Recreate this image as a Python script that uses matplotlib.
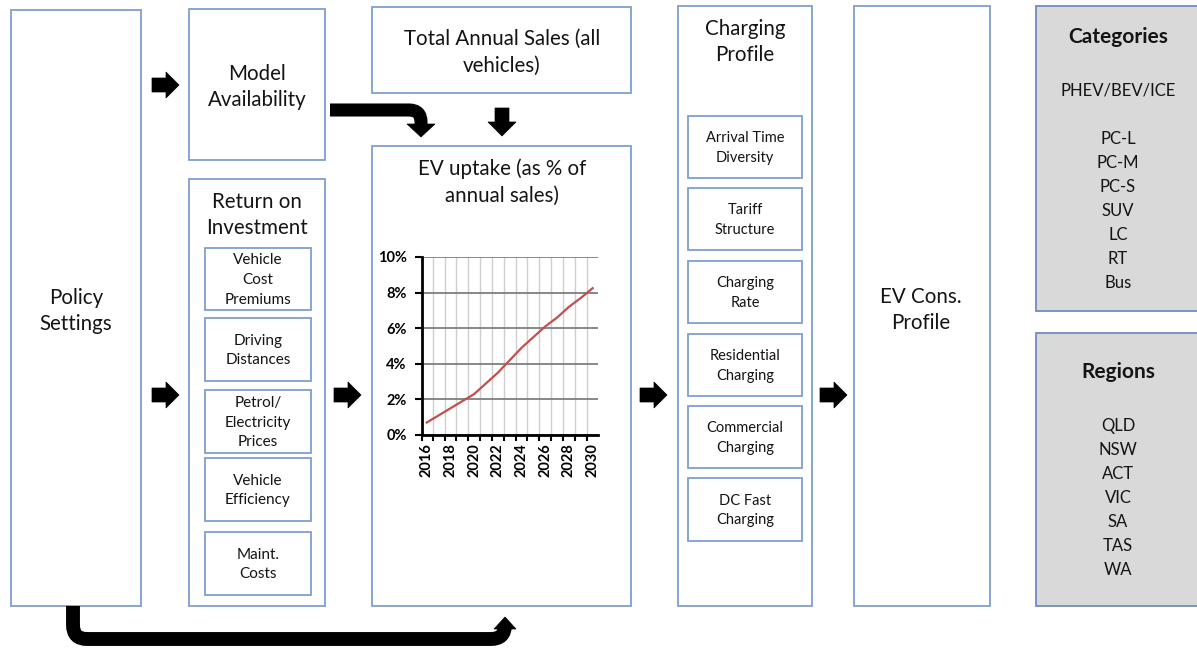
import numpy as np
import matplotlib
matplotlib.use('Agg')
import matplotlib.pyplot as plt
from matplotlib.patches import Rectangle, Polygon, PathPatch
from matplotlib.path import Path

plt.rcParams['font.family'] = ['Lato', 'DejaVu Sans']

# inset chart data (EV uptake, % of annual sales)
years = list(range(2016, 2031))
uptake = [0.7, 1.1, 1.5, 1.9, 2.3, 2.9, 3.5, 4.2, 4.9, 5.5, 6.1, 6.6, 7.2, 7.7, 8.25]

roi_items = ['Vehicle\nCost\nPremiums', 'Driving\nDistances', 'Petrol/\nElectricity\nPrices',
             'Vehicle\nEfficiency', 'Maint.\nCosts']
charging_items = ['Arrival Time\nDiversity', 'Tariff\nStructure', 'Charging\nRate',
                  'Residential\nCharging', 'Commercial\nCharging', 'DC Fast\nCharging']
categories = ['PC-L', 'PC-M', 'PC-S', 'SUV', 'LC', 'RT', 'Bus']
regions = ['QLD', 'NSW', 'ACT', 'VIC', 'SA', 'TAS', 'WA']

EDGE = '#7f9fd0'
TXT = '#141414'

fig = plt.figure(figsize=(11.97, 6.5), dpi=100)
ax = fig.add_axes([0, 0, 1, 1])
ax.set_xlim(0, 1197)
ax.set_ylim(650, 0)
ax.axis('off')


def box(x0, y0, x1, y1, fc='white', ec=EDGE, lw=1.3):
    ax.add_patch(Rectangle((x0, y0), x1 - x0, y1 - y0, fc=fc, ec=ec, lw=lw, zorder=1))


def label(x, y, s, size=14.8, weight='normal', ls=1.42):
    ax.text(x, y, s, ha='center', va='center', fontsize=size, fontweight=weight,
            color=TXT, linespacing=ls, zorder=5)


def right_arrow(x0, yc):
    pts = [(x0, yc - 7), (x0 + 14, yc - 7), (x0 + 14, yc - 13), (x0 + 27, yc),
           (x0 + 14, yc + 13), (x0 + 14, yc + 7), (x0, yc + 7)]
    ax.add_patch(Polygon(pts, closed=True, fc='black', ec='black', lw=0.5, zorder=6))


def down_arrow(xc, y0):
    pts = [(xc - 7, y0), (xc + 7, y0), (xc + 7, y0 + 14), (xc + 14, y0 + 14),
           (xc, y0 + 28), (xc - 14, y0 + 14), (xc - 7, y0 + 14)]
    ax.add_patch(Polygon(pts, closed=True, fc='black', ec='black', lw=0.5, zorder=6))


def bent(points, r, lw):
    # polyline with rounded corners
    verts = [points[0]]
    codes = [Path.MOVETO]
    for i in range(1, len(points) - 1):
        p0, c, p1 = map(np.array, (points[i - 1], points[i], points[i + 1]))
        d0 = (c - p0) / np.linalg.norm(c - p0)
        d1 = (p1 - c) / np.linalg.norm(p1 - c)
        verts += [tuple(c - r * d0), tuple(c), tuple(c + r * d1)]
        codes += [Path.LINETO, Path.CURVE3, Path.CURVE3]
    verts.append(points[-1])
    codes.append(Path.LINETO)
    ax.add_patch(PathPatch(Path(verts, codes), fill=False, ec='black', lw=lw,
                           capstyle='butt', joinstyle='miter', zorder=6))


# main boxes
box(11, 10, 141, 606)
label(76, 311, 'Policy\nSettings')

box(189, 9, 325, 160)
label(257, 87, 'Model\nAvailability')

box(189, 179, 325, 606)
label(257, 215, 'Return on\nInvestment')
roi_y = [(248, 310), (318, 381), (390, 453), (458, 521), (532, 595)]
for (y0, y1), s in zip(roi_y, roi_items):
    box(205, y0, 311, y1)
    label(258, (y0 + y1) / 2 + 1, s, size=11, ls=1.5)

box(372, 7, 631, 93)
label(502, 52, 'Total Annual Sales (all\nvehicles)')

box(372, 146, 631, 606)
label(502, 182, 'EV uptake (as % of\nannual sales)')

box(678, 6, 812, 606)
label(745, 42, 'Charging\nProfile')
ch_y = [(116, 178), (188, 250), (261, 323), (334, 396), (406, 468), (478, 541)]
for (y0, y1), s in zip(ch_y, charging_items):
    box(688, y0, 802, y1)
    label(745, (y0 + y1) / 2 + 1, s, size=10.5, ls=1.5)

box(854, 6, 990, 606)
label(921, 310, 'EV Cons.\nProfile')

# gray side panels
box(1036, 6, 1205, 311, fc='#d9d9d9', ec='#6f8dc0')
label(1118, 37, 'Categories', size=15, weight='bold')
label(1118, 91, 'PHEV/BEV/ICE', size=12)
for i, s in enumerate(categories):
    label(1118, 139 + 24 * i, s, size=12)

box(1036, 333, 1205, 606, fc='#d9d9d9', ec='#6f8dc0')
label(1118, 372, 'Regions', size=15, weight='bold')
for i, s in enumerate(regions):
    label(1118, 426 + 24 * i, s, size=12)

# arrows
right_arrow(152, 85)
for x in (152, 334, 640, 820):
    right_arrow(x, 395)
down_arrow(502, 108)
bent([(330, 110), (421, 110), (421, 124)], 12, 9.4)
ax.add_patch(Polygon([(407, 124), (435, 124), (421, 137)], closed=True, fc='black', ec='black', lw=0.5, zorder=6))
bent([(73, 606), (73, 639), (505, 639), (505, 628)], 14, 10)
ax.add_patch(Polygon([(494, 629), (516, 629), (505, 617)], closed=True, fc='black', ec='black', lw=0.5, zorder=6))

# inset line chart
L, R, T, B = 422, 598, 257, 435
ax2 = fig.add_axes([L / 1197, 1 - B / 650, (R - L) / 1197, (B - T) / 650])
ax2.plot(years, [u / 100 for u in uptake], color='#c0504d', lw=1.6, zorder=3)
ax2.set_xlim(2015.6, 2030.45)
ax2.set_ylim(0, 0.10)
ax2.set_yticks(np.arange(0, 0.101, 0.02))
ax2.set_yticklabels([f'{int(round(v * 100))}%' for v in np.arange(0, 0.101, 0.02)],
                    fontsize=10.5, fontweight='bold')
ax2.set_xticks(years[::2])
ax2.set_xticklabels([str(y) for y in years[::2]], rotation=90, fontsize=10.5, fontweight='bold')
ax2.set_xticks([y + 0.5 for y in years[:-1]] + [2015.6], minor=True)
ax2.tick_params(axis='x', which='major', length=0, pad=6)
ax2.tick_params(axis='x', which='minor', length=4, width=1.5, direction='out')
ax2.tick_params(axis='y', length=5, width=1.5, direction='out', pad=6)
ax2.grid(axis='y', which='major', color='#7f7f7f', lw=1.3)
ax2.grid(axis='x', which='minor', color='#cfcfcf', lw=1)
for s in ('top', 'right'):
    ax2.spines[s].set_visible(False)
for s in ('left', 'bottom'):
    ax2.spines[s].set_linewidth(2)
ax2.set_axisbelow(True)
ax2.patch.set_alpha(0)

fig.savefig('out.png', dpi=100)
